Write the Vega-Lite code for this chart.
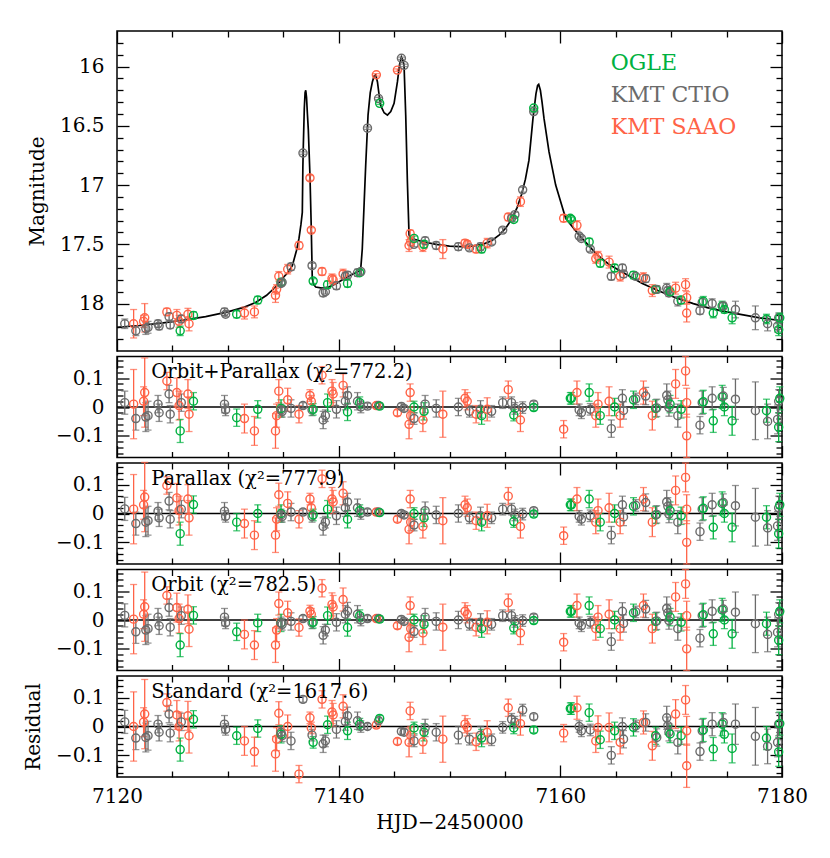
{
"$schema":"https://vega.github.io/schema/vega-lite/v6.json",
"background":"white",
"padding":{"left":22,"top":29,"right":5,"bottom":5},
"spacing":5.5,
"bounds":"flush",
"config":{
 "axis":{"domain":false,"grid":false,"tickColor":"black","tickWidth":1.3,"labelFont":"DejaVu Serif","labelFontSize":20,"labelColor":"black","titleFont":"DejaVu Serif","titleFontSize":20,"titleFontWeight":"normal","titleColor":"black","labelFlush":false,"labelOverlap":false},
 "view":{"stroke":"black","strokeWidth":1.5},
 "text":{"font":"DejaVu Serif"}
},
"datasets":{
"obs":[
{"t":7120.7,"obs":"KMT CTIO","mag":18.17,"err":0.04,"r_op":0.015,"r_p":0.016,"r_o":0.016,"r_std":0.016},
{"t":7121.5,"obs":"KMT SAAO","mag":18.17,"err":0.12,"r_op":0.01,"r_p":0.015,"r_o":0.003,"r_std":0.0},
{"t":7121.7,"obs":"KMT CTIO","mag":18.23,"err":0.04,"r_op":-0.04,"r_p":-0.035,"r_o":-0.041,"r_std":-0.04},
{"t":7122.4,"obs":"KMT SAAO","mag":18.15,"err":0.05,"r_op":0.02,"r_p":0.03,"r_o":0.02,"r_std":0.015},
{"t":7122.5,"obs":"KMT SAAO","mag":18.12,"err":0.12,"r_op":0.05,"r_p":0.057,"r_o":0.046,"r_std":0.043},
{"t":7122.6,"obs":"KMT CTIO","mag":18.21,"err":0.05,"r_op":-0.035,"r_p":-0.03,"r_o":-0.035,"r_std":-0.038},
{"t":7122.8,"obs":"KMT CTIO","mag":18.2,"err":0.05,"r_op":-0.03,"r_p":-0.025,"r_o":-0.03,"r_std":-0.032},
{"t":7123.7,"obs":"KMT CTIO","mag":18.17,"err":0.03,"r_op":0.01,"r_p":0.008,"r_o":0.01,"r_std":0.008},
{"t":7123.8,"obs":"KMT CTIO","mag":18.19,"err":0.03,"r_op":-0.02,"r_p":-0.015,"r_o":-0.02,"r_std":-0.02},
{"t":7124.5,"obs":"KMT SAAO","mag":18.07,"err":0.03,"r_op":0.09,"r_p":0.097,"r_o":0.085,"r_std":0.083},
{"t":7124.7,"obs":"KMT CTIO","mag":18.11,"err":0.03,"r_op":0.045,"r_p":0.043,"r_o":0.043,"r_std":0.043},
{"t":7124.8,"obs":"KMT CTIO","mag":18.18,"err":0.03,"r_op":-0.025,"r_p":-0.02,"r_o":-0.025,"r_std":-0.023},
{"t":7125.4,"obs":"KMT SAAO","mag":18.1,"err":0.05,"r_op":0.05,"r_p":0.054,"r_o":0.043,"r_std":0.04},
{"t":7125.6,"obs":"KMT SAAO","mag":18.15,"err":0.05,"r_op":0.005,"r_p":0.01,"r_o":0.005,"r_std":0.0},
{"t":7125.7,"obs":"OGLE","mag":18.23,"err":0.04,"r_op":-0.083,"r_p":-0.07,"r_o":-0.087,"r_std":-0.08},
{"t":7125.8,"obs":"KMT CTIO","mag":18.13,"err":0.03,"r_op":0.015,"r_p":0.015,"r_o":0.015,"r_std":0.016},
{"t":7126.4,"obs":"KMT SAAO","mag":18.09,"err":0.05,"r_op":0.045,"r_p":0.05,"r_o":0.037,"r_std":0.037},
{"t":7126.5,"obs":"KMT SAAO","mag":18.17,"err":0.06,"r_op":-0.025,"r_p":-0.015,"r_o":-0.032,"r_std":-0.032},
{"t":7126.9,"obs":"OGLE","mag":18.1,"err":0.03,"r_op":0.02,"r_p":0.031,"r_o":0.016,"r_std":0.025},
{"t":7129.7,"obs":"KMT CTIO","mag":18.07,"err":0.03,"r_op":0.01,"r_p":0.008,"r_o":0.01,"r_std":0.008},
{"t":7129.8,"obs":"KMT CTIO","mag":18.09,"err":0.02,"r_op":-0.01,"r_p":-0.01,"r_o":-0.01,"r_std":-0.01},
{"t":7130.8,"obs":"OGLE","mag":18.09,"err":0.03,"r_op":-0.037,"r_p":-0.03,"r_o":-0.041,"r_std":-0.032},
{"t":7131.5,"obs":"KMT SAAO","mag":18.08,"err":0.05,"r_op":-0.04,"r_p":-0.035,"r_o":-0.05,"r_std":-0.05},
{"t":7132.4,"obs":"KMT SAAO","mag":18.07,"err":0.05,"r_op":-0.083,"r_p":-0.075,"r_o":-0.087,"r_std":-0.087},
{"t":7132.7,"obs":"OGLE","mag":17.97,"err":0.03,"r_op":-0.008,"r_p":0.0,"r_o":-0.01,"r_std":-0.007},
{"t":7134.3,"obs":"KMT SAAO","mag":17.93,"err":0.06,"r_op":-0.083,"r_p":-0.075,"r_o":-0.087,"r_std":-0.095},
{"t":7134.4,"obs":"KMT SAAO","mag":17.88,"err":0.04,"r_op":-0.03,"r_p":-0.02,"r_o":-0.035,"r_std":-0.044},
{"t":7134.6,"obs":"KMT SAAO","mag":17.77,"err":0.04,"r_op":0.055,"r_p":0.065,"r_o":0.057,"r_std":0.046},
{"t":7134.8,"obs":"OGLE","mag":17.82,"err":0.03,"r_op":-0.005,"r_p":0.0,"r_o":-0.01,"r_std":-0.027},
{"t":7134.8,"obs":"KMT CTIO","mag":17.83,"err":0.02,"r_op":-0.01,"r_p":-0.005,"r_o":-0.01,"r_std":-0.02},
{"t":7134.9,"obs":"KMT CTIO","mag":17.82,"err":0.02,"r_op":-0.015,"r_p":-0.01,"r_o":-0.015,"r_std":-0.032},
{"t":7135.4,"obs":"KMT SAAO","mag":17.71,"err":0.04,"r_op":0.025,"r_p":0.035,"r_o":0.025,"r_std":0.0},
{"t":7135.7,"obs":"KMT CTIO","mag":17.69,"err":0.03,"r_op":-0.005,"r_p":0.005,"r_o":-0.005,"r_std":-0.05},
{"t":7136.42,"obs":"KMT SAAO","mag":17.51,"err":0.03,"r_op":-0.025,"r_p":-0.02,"r_o":-0.026,"r_std":-0.165},
{"t":7136.78,"obs":"KMT CTIO","mag":16.73,"err":0.01,"r_op":0.005,"r_p":0.005,"r_o":0.005,"r_std":0.094},
{"t":7137.41,"obs":"KMT SAAO","mag":16.94,"err":0.02,"r_op":0.04,"r_p":0.05,"r_o":0.031,"r_std":0.03},
{"t":7137.53,"obs":"KMT SAAO","mag":17.38,"err":0.02,"r_op":0.02,"r_p":0.02,"r_o":0.02,"r_std":-0.005},
{"t":7137.6,"obs":"KMT CTIO","mag":17.68,"err":0.02,"r_op":-0.01,"r_p":-0.01,"r_o":-0.01,"r_std":-0.03},
{"t":7137.7,"obs":"OGLE","mag":17.81,"err":0.02,"r_op":-0.008,"r_p":-0.005,"r_o":-0.008,"r_std":-0.055},
{"t":7138.5,"obs":"KMT SAAO","mag":17.73,"err":0.03,"r_op":0.11,"r_p":0.12,"r_o":0.11,"r_std":0.094},
{"t":7138.6,"obs":"KMT CTIO","mag":17.91,"err":0.03,"r_op":-0.045,"r_p":-0.045,"r_o":-0.053,"r_std":-0.06},
{"t":7138.8,"obs":"KMT CTIO","mag":17.9,"err":0.02,"r_op":-0.03,"r_p":-0.03,"r_o":-0.035,"r_std":-0.05},
{"t":7139.0,"obs":"OGLE","mag":17.84,"err":0.03,"r_op":0.015,"r_p":0.015,"r_o":0.015,"r_std":0.006},
{"t":7139.4,"obs":"KMT SAAO","mag":17.79,"err":0.04,"r_op":0.055,"r_p":0.05,"r_o":0.054,"r_std":0.05},
{"t":7139.5,"obs":"KMT SAAO","mag":17.8,"err":0.04,"r_op":0.045,"r_p":0.04,"r_o":0.045,"r_std":0.04},
{"t":7139.8,"obs":"KMT CTIO","mag":17.85,"err":0.03,"r_op":-0.008,"r_p":-0.008,"r_o":-0.008,"r_std":-0.01},
{"t":7140.4,"obs":"KMT SAAO","mag":17.75,"err":0.04,"r_op":0.075,"r_p":0.07,"r_o":0.071,"r_std":0.07},
{"t":7140.6,"obs":"KMT CTIO","mag":17.77,"err":0.03,"r_op":0.02,"r_p":0.02,"r_o":0.02,"r_std":0.017},
{"t":7140.8,"obs":"KMT CTIO","mag":17.76,"err":0.03,"r_op":0.04,"r_p":0.04,"r_o":0.031,"r_std":0.037},
{"t":7140.8,"obs":"OGLE","mag":17.83,"err":0.03,"r_op":-0.017,"r_p":-0.02,"r_o":-0.026,"r_std":-0.015},
{"t":7141.7,"obs":"KMT CTIO","mag":17.74,"err":0.03,"r_op":0.02,"r_p":0.02,"r_o":0.02,"r_std":0.02},
{"t":7141.9,"obs":"OGLE","mag":17.74,"err":0.02,"r_op":0.015,"r_p":0.01,"r_o":0.015,"r_std":0.008},
{"t":7142.0,"obs":"KMT CTIO","mag":17.73,"err":0.02,"r_op":0.0,"r_p":0.0,"r_o":0.0,"r_std":0.0},
{"t":7142.6,"obs":"KMT CTIO","mag":16.52,"err":0.01,"r_op":0.003,"r_p":0.005,"r_o":0.005,"r_std":0.0},
{"t":7143.4,"obs":"KMT SAAO","mag":16.07,"err":0.01,"r_op":0.005,"r_p":0.005,"r_o":0.005,"r_std":0.005},
{"t":7143.6,"obs":"KMT CTIO","mag":16.27,"err":0.01,"r_op":0.005,"r_p":0.005,"r_o":0.005,"r_std":0.02},
{"t":7143.7,"obs":"OGLE","mag":16.31,"err":0.01,"r_op":0.003,"r_p":0.003,"r_o":0.003,"r_std":0.028},
{"t":7145.3,"obs":"KMT SAAO","mag":16.03,"err":0.01,"r_op":-0.02,"r_p":-0.02,"r_o":-0.02,"r_std":-0.052},
{"t":7145.66,"obs":"KMT CTIO","mag":15.93,"err":0.01,"r_op":0.002,"r_p":0.0,"r_o":0.002,"r_std":-0.017},
{"t":7145.9,"obs":"KMT CTIO","mag":15.99,"err":0.01,"r_op":-0.005,"r_p":-0.005,"r_o":-0.005,"r_std":-0.02},
{"t":7146.35,"obs":"KMT SAAO","mag":17.51,"err":0.05,"r_op":-0.06,"r_p":-0.055,"r_o":-0.06,"r_std":-0.055},
{"t":7146.45,"obs":"KMT SAAO","mag":17.41,"err":0.03,"r_op":0.05,"r_p":0.05,"r_o":0.05,"r_std":0.054},
{"t":7146.5,"obs":"KMT SAAO","mag":17.48,"err":0.03,"r_op":-0.03,"r_p":-0.03,"r_o":-0.03,"r_std":-0.03},
{"t":7146.8,"obs":"KMT CTIO","mag":17.5,"err":0.02,"r_op":-0.04,"r_p":-0.04,"r_o":-0.04,"r_std":-0.05},
{"t":7146.8,"obs":"OGLE","mag":17.45,"err":0.02,"r_op":0.0,"r_p":0.0,"r_o":0.0,"r_std":-0.005},
{"t":7147.6,"obs":"KMT SAAO","mag":17.52,"err":0.04,"r_op":-0.045,"r_p":-0.045,"r_o":-0.045,"r_std":-0.053},
{"t":7147.7,"obs":"OGLE","mag":17.5,"err":0.03,"r_op":-0.015,"r_p":-0.015,"r_o":-0.015,"r_std":-0.02},
{"t":7147.8,"obs":"KMT CTIO","mag":17.47,"err":0.03,"r_op":0.01,"r_p":0.01,"r_o":0.01,"r_std":-0.005},
{"t":7148.8,"obs":"KMT CTIO","mag":17.51,"err":0.03,"r_op":-0.005,"r_p":-0.005,"r_o":-0.005,"r_std":-0.02},
{"t":7149.4,"obs":"KMT SAAO","mag":17.54,"err":0.08,"r_op":-0.025,"r_p":-0.025,"r_o":-0.025,"r_std":-0.044},
{"t":7150.8,"obs":"KMT CTIO","mag":17.52,"err":0.03,"r_op":0.0,"r_p":0.0,"r_o":0.0,"r_std":-0.03},
{"t":7151.4,"obs":"KMT SAAO","mag":17.49,"err":0.03,"r_op":0.03,"r_p":0.03,"r_o":0.03,"r_std":0.008},
{"t":7151.6,"obs":"KMT SAAO","mag":17.5,"err":0.03,"r_op":0.02,"r_p":0.02,"r_o":0.02,"r_std":-0.003},
{"t":7151.8,"obs":"KMT CTIO","mag":17.53,"err":0.02,"r_op":-0.015,"r_p":-0.015,"r_o":-0.015,"r_std":-0.044},
{"t":7152.4,"obs":"KMT SAAO","mag":17.54,"err":0.03,"r_op":-0.025,"r_p":-0.025,"r_o":-0.025,"r_std":-0.053},
{"t":7152.8,"obs":"KMT CTIO","mag":17.52,"err":0.03,"r_op":-0.008,"r_p":-0.008,"r_o":-0.008,"r_std":-0.03},
{"t":7152.9,"obs":"OGLE","mag":17.54,"err":0.03,"r_op":-0.03,"r_p":-0.03,"r_o":-0.03,"r_std":-0.04},
{"t":7153.4,"obs":"KMT SAAO","mag":17.49,"err":0.04,"r_op":-0.008,"r_p":-0.008,"r_o":-0.008,"r_std":-0.02},
{"t":7153.8,"obs":"KMT CTIO","mag":17.48,"err":0.02,"r_op":-0.015,"r_p":-0.015,"r_o":-0.015,"r_std":-0.046},
{"t":7154.8,"obs":"KMT CTIO","mag":17.38,"err":0.02,"r_op":0.015,"r_p":0.015,"r_o":0.015,"r_std":-0.003},
{"t":7155.3,"obs":"KMT SAAO","mag":17.27,"err":0.03,"r_op":0.06,"r_p":0.06,"r_o":0.06,"r_std":0.065},
{"t":7155.6,"obs":"KMT CTIO","mag":17.28,"err":0.02,"r_op":0.015,"r_p":0.015,"r_o":0.015,"r_std":0.025},
{"t":7155.9,"obs":"KMT CTIO","mag":17.25,"err":0.02,"r_op":-0.005,"r_p":-0.005,"r_o":-0.005,"r_std":0.015},
{"t":7155.8,"obs":"OGLE","mag":17.29,"err":0.02,"r_op":-0.028,"r_p":-0.028,"r_o":-0.028,"r_std":-0.005},
{"t":7156.4,"obs":"KMT SAAO","mag":17.14,"err":0.04,"r_op":-0.045,"r_p":-0.045,"r_o":-0.045,"r_std":0.01},
{"t":7156.6,"obs":"KMT CTIO","mag":17.04,"err":0.02,"r_op":-0.002,"r_p":-0.002,"r_o":-0.002,"r_std":0.057},
{"t":7157.6,"obs":"KMT CTIO","mag":16.38,"err":0.01,"r_op":0.01,"r_p":0.01,"r_o":0.01,"r_std":0.034},
{"t":7157.6,"obs":"OGLE","mag":16.35,"err":0.01,"r_op":-0.002,"r_p":-0.002,"r_o":-0.002,"r_std":-0.012},
{"t":7160.3,"obs":"KMT SAAO","mag":17.28,"err":0.03,"r_op":-0.077,"r_p":-0.077,"r_o":-0.077,"r_std":-0.023},
{"t":7160.9,"obs":"OGLE","mag":17.28,"err":0.02,"r_op":0.03,"r_p":0.03,"r_o":0.03,"r_std":0.062},
{"t":7161.0,"obs":"OGLE","mag":17.29,"err":0.02,"r_op":0.03,"r_p":0.03,"r_o":0.03,"r_std":0.062},
{"t":7161.5,"obs":"KMT SAAO","mag":17.34,"err":0.04,"r_op":0.05,"r_p":0.05,"r_o":0.05,"r_std":0.065},
{"t":7161.7,"obs":"KMT CTIO","mag":17.43,"err":0.02,"r_op":-0.01,"r_p":-0.01,"r_o":-0.01,"r_std":0.0},
{"t":7161.9,"obs":"KMT CTIO","mag":17.45,"err":0.02,"r_op":-0.02,"r_p":-0.02,"r_o":-0.02,"r_std":-0.015},
{"t":7162.6,"obs":"OGLE","mag":17.48,"err":0.03,"r_op":0.05,"r_p":0.05,"r_o":0.05,"r_std":0.048},
{"t":7162.7,"obs":"KMT CTIO","mag":17.54,"err":0.02,"r_op":-0.008,"r_p":-0.008,"r_o":-0.008,"r_std":-0.012},
{"t":7163.2,"obs":"KMT SAAO","mag":17.62,"err":0.04,"r_op":-0.03,"r_p":-0.03,"r_o":-0.03,"r_std":-0.05},
{"t":7163.4,"obs":"KMT SAAO","mag":17.6,"err":0.04,"r_op":0.01,"r_p":0.01,"r_o":0.01,"r_std":-0.003},
{"t":7163.6,"obs":"OGLE","mag":17.66,"err":0.03,"r_op":-0.03,"r_p":-0.03,"r_o":-0.03,"r_std":-0.046},
{"t":7164.4,"obs":"KMT SAAO","mag":17.65,"err":0.05,"r_op":0.02,"r_p":0.02,"r_o":0.02,"r_std":-0.003},
{"t":7164.6,"obs":"KMT CTIO","mag":17.77,"err":0.03,"r_op":-0.075,"r_p":-0.075,"r_o":-0.075,"r_std":-0.1},
{"t":7164.9,"obs":"OGLE","mag":17.7,"err":0.03,"r_op":0.0,"r_p":0.0,"r_o":0.0,"r_std":-0.015},
{"t":7165.4,"obs":"KMT SAAO","mag":17.77,"err":0.04,"r_op":-0.03,"r_p":-0.03,"r_o":-0.03,"r_std":-0.055},
{"t":7165.6,"obs":"KMT CTIO","mag":17.7,"err":0.03,"r_op":0.03,"r_p":0.03,"r_o":0.03,"r_std":0.0},
{"t":7165.7,"obs":"KMT CTIO","mag":17.75,"err":0.03,"r_op":-0.012,"r_p":-0.012,"r_o":-0.012,"r_std":-0.044},
{"t":7166.6,"obs":"OGLE","mag":17.76,"err":0.03,"r_op":0.025,"r_p":0.025,"r_o":0.025,"r_std":-0.003},
{"t":7166.8,"obs":"KMT CTIO","mag":17.77,"err":0.02,"r_op":0.028,"r_p":0.028,"r_o":0.028,"r_std":0.002},
{"t":7167.5,"obs":"KMT SAAO","mag":17.78,"err":0.04,"r_op":0.05,"r_p":0.05,"r_o":0.05,"r_std":0.014},
{"t":7167.7,"obs":"KMT CTIO","mag":17.79,"err":0.03,"r_op":0.038,"r_p":0.038,"r_o":0.038,"r_std":0.014},
{"t":7168.3,"obs":"KMT SAAO","mag":17.89,"err":0.05,"r_op":-0.03,"r_p":-0.03,"r_o":-0.03,"r_std":-0.067},
{"t":7168.6,"obs":"OGLE","mag":17.88,"err":0.03,"r_op":-0.005,"r_p":-0.005,"r_o":-0.005,"r_std":-0.032},
{"t":7168.7,"obs":"KMT CTIO","mag":17.88,"err":0.03,"r_op":-0.003,"r_p":-0.003,"r_o":-0.003,"r_std":-0.038},
{"t":7169.6,"obs":"KMT CTIO","mag":17.87,"err":0.04,"r_op":0.04,"r_p":0.04,"r_o":0.04,"r_std":0.03},
{"t":7169.7,"obs":"KMT CTIO","mag":17.89,"err":0.03,"r_op":0.025,"r_p":0.025,"r_o":0.025,"r_std":0.003},
{"t":7169.8,"obs":"KMT CTIO","mag":17.91,"err":0.03,"r_op":-0.002,"r_p":-0.002,"r_o":-0.002,"r_std":-0.02},
{"t":7169.9,"obs":"OGLE","mag":17.9,"err":0.03,"r_op":0.01,"r_p":0.01,"r_o":0.01,"r_std":-0.026},
{"t":7170.4,"obs":"KMT SAAO","mag":17.87,"err":0.05,"r_op":0.08,"r_p":0.08,"r_o":0.08,"r_std":0.043},
{"t":7170.6,"obs":"KMT CTIO","mag":17.98,"err":0.04,"r_op":-0.03,"r_p":-0.03,"r_o":-0.03,"r_std":-0.055},
{"t":7170.9,"obs":"OGLE","mag":17.97,"err":0.03,"r_op":-0.008,"r_p":-0.008,"r_o":-0.008,"r_std":-0.032},
{"t":7171.3,"obs":"KMT SAAO","mag":17.84,"err":0.05,"r_op":0.125,"r_p":0.125,"r_o":0.125,"r_std":0.092},
{"t":7171.4,"obs":"KMT SAAO","mag":17.95,"err":0.05,"r_op":0.015,"r_p":0.015,"r_o":0.015,"r_std":-0.015},
{"t":7171.4,"obs":"KMT SAAO","mag":18.08,"err":0.075,"r_op":-0.1,"r_p":-0.1,"r_o":-0.1,"r_std":-0.136},
{"t":7172.6,"obs":"KMT CTIO","mag":18.06,"err":0.03,"r_op":-0.063,"r_p":-0.063,"r_o":-0.063,"r_std":-0.087},
{"t":7172.8,"obs":"KMT CTIO","mag":17.99,"err":0.04,"r_op":0.015,"r_p":0.015,"r_o":0.015,"r_std":-0.015},
{"t":7172.9,"obs":"OGLE","mag":17.98,"err":0.04,"r_op":0.018,"r_p":0.018,"r_o":0.018,"r_std":-0.012},
{"t":7173.7,"obs":"KMT CTIO","mag":18.0,"err":0.04,"r_op":0.03,"r_p":0.03,"r_o":0.03,"r_std":0.008},
{"t":7173.8,"obs":"OGLE","mag":18.08,"err":0.04,"r_op":-0.048,"r_p":-0.048,"r_o":-0.048,"r_std":-0.078},
{"t":7174.6,"obs":"OGLE","mag":18.02,"err":0.04,"r_op":0.035,"r_p":0.035,"r_o":0.035,"r_std":0.008},
{"t":7174.7,"obs":"KMT CTIO","mag":18.02,"err":0.03,"r_op":0.038,"r_p":0.038,"r_o":0.038,"r_std":0.014},
{"t":7174.8,"obs":"OGLE","mag":18.05,"err":0.03,"r_op":0.0,"r_p":0.0,"r_o":0.0,"r_std":-0.027},
{"t":7175.5,"obs":"OGLE","mag":18.12,"err":0.05,"r_op":-0.048,"r_p":-0.048,"r_o":-0.048,"r_std":-0.076},
{"t":7175.8,"obs":"KMT CTIO","mag":18.05,"err":0.07,"r_op":0.027,"r_p":0.027,"r_o":0.027,"r_std":0.008},
{"t":7177.6,"obs":"KMT CTIO","mag":18.12,"err":0.1,"r_op":-0.013,"r_p":-0.013,"r_o":-0.013,"r_std":-0.034},
{"t":7178.6,"obs":"OGLE","mag":18.13,"err":0.04,"r_op":-0.013,"r_p":-0.013,"r_o":-0.013,"r_std":-0.04},
{"t":7178.7,"obs":"KMT CTIO","mag":18.17,"err":0.06,"r_op":-0.05,"r_p":-0.05,"r_o":-0.05,"r_std":-0.069},
{"t":7179.6,"obs":"KMT CTIO","mag":18.19,"err":0.05,"r_op":-0.043,"r_p":-0.043,"r_o":-0.043,"r_std":-0.055},
{"t":7179.7,"obs":"OGLE","mag":18.22,"err":0.05,"r_op":-0.07,"r_p":-0.07,"r_o":-0.07,"r_std":-0.088},
{"t":7179.7,"obs":"KMT CTIO","mag":18.12,"err":0.04,"r_op":0.02,"r_p":0.02,"r_o":0.02,"r_std":0.008},
{"t":7179.8,"obs":"OGLE","mag":18.12,"err":0.04,"r_op":0.03,"r_p":0.03,"r_o":0.03,"r_std":0.01}
],
"model":[
{"t":7120.0,"mag":18.2},{"t":7122.0,"mag":18.185},{"t":7124.0,"mag":18.165},{"t":7126.0,"mag":18.14},{"t":7128.0,"mag":18.11},{"t":7130.0,"mag":18.07},{"t":7131.5,"mag":18.03},{"t":7132.5,"mag":17.99},{"t":7133.5,"mag":17.93},{"t":7134.3,"mag":17.86},{"t":7134.9,"mag":17.79},{"t":7135.4,"mag":17.74},{"t":7135.82,"mag":17.68},{"t":7136.2,"mag":17.55},{"t":7136.42,"mag":17.45},{"t":7136.6,"mag":17.33},{"t":7136.72,"mag":17.23},{"t":7136.77,"mag":16.85},{"t":7136.81,"mag":16.67},{"t":7136.9,"mag":16.35},{"t":7136.97,"mag":16.22},{"t":7137.03,"mag":16.2},{"t":7137.1,"mag":16.26},{"t":7137.18,"mag":16.4},{"t":7137.26,"mag":16.53},{"t":7137.41,"mag":16.92},{"t":7137.53,"mag":17.37},{"t":7137.62,"mag":17.79},{"t":7137.75,"mag":17.84},{"t":7137.93,"mag":17.86},{"t":7138.5,"mag":17.87},{"t":7139.1,"mag":17.86},{"t":7139.8,"mag":17.83},{"t":7140.48,"mag":17.79},{"t":7141.3,"mag":17.75},{"t":7141.98,"mag":17.72},{"t":7142.13,"mag":17.54},{"t":7142.3,"mag":17.15},{"t":7142.44,"mag":16.83},{"t":7142.65,"mag":16.41},{"t":7142.85,"mag":16.22},{"t":7143.04,"mag":16.13},{"t":7143.2,"mag":16.08},{"t":7143.34,"mag":16.07},{"t":7143.5,"mag":16.13},{"t":7143.65,"mag":16.24},{"t":7143.8,"mag":16.33},{"t":7144.1,"mag":16.39},{"t":7144.4,"mag":16.41},{"t":7144.7,"mag":16.38},{"t":7145.0,"mag":16.31},{"t":7145.3,"mag":16.13},{"t":7145.5,"mag":15.98},{"t":7145.66,"mag":15.92},{"t":7145.8,"mag":15.95},{"t":7145.9,"mag":15.99},{"t":7146.05,"mag":16.41},{"t":7146.2,"mag":16.97},{"t":7146.35,"mag":17.42},{"t":7146.5,"mag":17.45},{"t":7147.7,"mag":17.48},{"t":7148.8,"mag":17.5},{"t":7150.0,"mag":17.515},{"t":7151.0,"mag":17.52},{"t":7152.0,"mag":17.515},{"t":7153.0,"mag":17.5},{"t":7153.8,"mag":17.47},{"t":7154.5,"mag":17.42},{"t":7155.1,"mag":17.36},{"t":7155.6,"mag":17.29},{"t":7156.1,"mag":17.19},{"t":7156.5,"mag":17.08},{"t":7156.85,"mag":16.95},{"t":7157.17,"mag":16.79},{"t":7157.53,"mag":16.44},{"t":7157.8,"mag":16.23},{"t":7157.95,"mag":16.16},{"t":7158.05,"mag":16.15},{"t":7158.2,"mag":16.2},{"t":7158.35,"mag":16.3},{"t":7158.53,"mag":16.44},{"t":7158.98,"mag":16.72},{"t":7159.58,"mag":17.0},{"t":7160.48,"mag":17.28},{"t":7161.68,"mag":17.42},{"t":7163.34,"mag":17.59},{"t":7164.4,"mag":17.67},{"t":7165.5,"mag":17.73},{"t":7167.4,"mag":17.83},{"t":7168.8,"mag":17.89},{"t":7170.4,"mag":17.95},{"t":7172.0,"mag":18.0},{"t":7173.5,"mag":18.04},{"t":7175.0,"mag":18.07},{"t":7176.5,"mag":18.095},{"t":7178.0,"mag":18.12},{"t":7180.0,"mag":18.145}
]
},
"vconcat":[
{
 "width":665,"height":320,
 "resolve":{"axis":{"x":"independent","y":"independent"}},
 "layer":[
  {"data":{"name":"model"},"mark":{"type":"line","color":"black","strokeWidth":1.7},
   "encoding":{
    "x":{"field":"t","type":"quantitative","scale":{"domain":[7120,7180],"nice":false,"zero":false},"axis":{"orient":"bottom","values":[7120,7140,7160,7180],"tickSize":-12,"labels":false,"title":null}},
    "y":{"field":"mag","type":"quantitative","scale":{"domain":[15.7,18.4],"reverse":true,"nice":false,"zero":false},"axis":{"orient":"left","values":[16,16.5,17,17.5,18],"tickSize":-12,"labelPadding":25,"format":"~g","title":"Magnitude","titlePadding":12}}}},
  {"data":{"name":"obs"},"mark":{"type":"errorbar","ticks":{"size":7},"thickness":1.3},
   "encoding":{
    "x":{"field":"t","type":"quantitative","scale":{"domain":[7120,7180],"nice":false,"zero":false},"axis":{"orient":"bottom","values":[7125,7130,7135,7145,7150,7155,7165,7170,7175],"tickSize":-6,"labels":false,"title":null}},
    "y":{"field":"mag","type":"quantitative","scale":{"domain":[15.7,18.4],"reverse":true,"nice":false,"zero":false},"axis":{"orient":"left","values":[15.8,15.9,16.1,16.2,16.3,16.4,16.6,16.7,16.8,16.9,17.1,17.2,17.3,17.4,17.6,17.7,17.8,17.9,18.1,18.2,18.3],"tickSize":-6,"labels":false,"title":null}},
    "yError":{"field":"err"},
    "color":{"field":"obs","type":"nominal","scale":{"domain":["OGLE","KMT CTIO","KMT SAAO"],"range":["#00b140","#6b6b6b","#ff6347"]},"legend":null}}},
  {"data":{"name":"obs"},"mark":{"type":"point","filled":false,"size":65,"strokeWidth":1.4,"opacity":1},
   "encoding":{
    "x":{"field":"t","type":"quantitative","scale":{"domain":[7120,7180],"nice":false,"zero":false},"axis":{"orient":"top","values":[7120,7140,7160,7180],"tickSize":-12,"labels":false,"title":null}},
    "y":{"field":"mag","type":"quantitative","scale":{"domain":[15.7,18.4],"reverse":true,"nice":false,"zero":false},"axis":{"orient":"right","values":[16,16.5,17,17.5,18],"tickSize":-12,"labels":false,"title":null}},
    "color":{"field":"obs","type":"nominal","scale":{"domain":["OGLE","KMT CTIO","KMT SAAO"],"range":["#00b140","#6b6b6b","#ff6347"]},"legend":null}}},
  {"data":{"values":[{"t":7164.55,"mag":16.028,"label":"OGLE"},{"t":7164.55,"mag":16.3,"label":"KMT CTIO"},{"t":7164.55,"mag":16.573,"label":"KMT SAAO"}]},
   "mark":{"type":"text","align":"left","baseline":"alphabetic","fontSize":22,"font":"DejaVu Serif"},
   "encoding":{
    "x":{"field":"t","type":"quantitative","scale":{"domain":[7120,7180],"nice":false,"zero":false},"axis":{"orient":"top","values":[7125,7130,7135,7145,7150,7155,7165,7170,7175],"tickSize":-6,"labels":false,"title":null}},
    "y":{"field":"mag","type":"quantitative","scale":{"domain":[15.7,18.4],"reverse":true,"nice":false,"zero":false},"axis":{"orient":"right","values":[15.8,15.9,16.1,16.2,16.3,16.4,16.6,16.7,16.8,16.9,17.1,17.2,17.3,17.4,17.6,17.7,17.8,17.9,18.1,18.2,18.3],"tickSize":-6,"labels":false,"title":null}},
    "text":{"field":"label"},
    "color":{"field":"label","type":"nominal","scale":{"domain":["OGLE","KMT CTIO","KMT SAAO"],"range":["#00b140","#6b6b6b","#ff6347"]},"legend":null}}}
 ]
},
{
 "width":665,"height":101,
 "resolve":{"axis":{"x":"independent","y":"independent"}},
 "layer":[
  {"data":{"values":[{"a":7120,"b":7180,"z":0}]},"mark":{"type":"rule","color":"black","strokeWidth":1.5},
   "encoding":{
    "x":{"field":"a","type":"quantitative","scale":{"domain":[7120,7180],"nice":false,"zero":false},"axis":{"orient":"top","values":[7125,7130,7135,7145,7150,7155,7165,7170,7175],"tickSize":-6,"labels":false,"title":null}},
    "x2":{"field":"b"},
    "y":{"field":"z","type":"quantitative","scale":{"domain":[-0.175,0.175],"nice":false,"zero":false},"axis":{"orient":"left","values":[-0.1,0,0.1],"tickSize":-12,"labelPadding":25,"format":"~g","title":null}}}},
  {"data":{"name":"obs"},"mark":{"type":"errorbar","ticks":{"size":7},"thickness":1.3},
   "encoding":{
    "x":{"field":"t","type":"quantitative","scale":{"domain":[7120,7180],"nice":false,"zero":false},"axis":{"orient":"bottom","values":[7120,7140,7160,7180],"tickSize":-12,"labels":false,"title":null}},
    "y":{"field":"r_op","type":"quantitative","scale":{"domain":[-0.175,0.175],"nice":false,"zero":false},"axis":{"orient":"left","values":[-0.16,-0.14,-0.12,-0.08,-0.06,-0.04,-0.02,0.02,0.04,0.06,0.08,0.12,0.14,0.16],"tickSize":-6,"labels":false,"title":null}},
    "yError":{"field":"err"},
    "color":{"field":"obs","type":"nominal","scale":{"domain":["OGLE","KMT CTIO","KMT SAAO"],"range":["#00b140","#6b6b6b","#ff6347"]},"legend":null}}},
  {"data":{"name":"obs"},"mark":{"type":"point","filled":false,"size":65,"strokeWidth":1.4,"opacity":1},
   "encoding":{
    "x":{"field":"t","type":"quantitative","scale":{"domain":[7120,7180],"nice":false,"zero":false},"axis":{"orient":"top","values":[7120,7140,7160,7180],"tickSize":-12,"labels":false,"title":null}},
    "y":{"field":"r_op","type":"quantitative","scale":{"domain":[-0.175,0.175],"nice":false,"zero":false},"axis":{"orient":"right","values":[-0.1,0,0.1],"tickSize":-12,"labels":false,"title":null}},
    "color":{"field":"obs","type":"nominal","scale":{"domain":["OGLE","KMT CTIO","KMT SAAO"],"range":["#00b140","#6b6b6b","#ff6347"]},"legend":null}}},
  {"data":{"values":[{"t":7123.1,"r":0.1,"label":"Orbit+Parallax (χ²=772.2)"}]},
   "mark":{"type":"text","align":"left","baseline":"alphabetic","fontSize":19.5,"font":"DejaVu Serif","color":"black"},
   "encoding":{
    "x":{"field":"t","type":"quantitative","scale":{"domain":[7120,7180],"nice":false,"zero":false},"axis":{"orient":"bottom","values":[7125,7130,7135,7145,7150,7155,7165,7170,7175],"tickSize":-6,"labels":false,"title":null}},
    "y":{"field":"r","type":"quantitative","scale":{"domain":[-0.175,0.175],"nice":false,"zero":false},"axis":{"orient":"right","values":[-0.16,-0.14,-0.12,-0.08,-0.06,-0.04,-0.02,0.02,0.04,0.06,0.08,0.12,0.14,0.16],"tickSize":-6,"labels":false,"title":null}},
    "text":{"field":"label"}}}
 ]
},
{
 "width":665,"height":101,
 "resolve":{"axis":{"x":"independent","y":"independent"}},
 "layer":[
  {"data":{"values":[{"a":7120,"b":7180,"z":0}]},"mark":{"type":"rule","color":"black","strokeWidth":1.5},
   "encoding":{
    "x":{"field":"a","type":"quantitative","scale":{"domain":[7120,7180],"nice":false,"zero":false},"axis":{"orient":"top","values":[7125,7130,7135,7145,7150,7155,7165,7170,7175],"tickSize":-6,"labels":false,"title":null}},
    "x2":{"field":"b"},
    "y":{"field":"z","type":"quantitative","scale":{"domain":[-0.175,0.175],"nice":false,"zero":false},"axis":{"orient":"left","values":[-0.1,0,0.1],"tickSize":-12,"labelPadding":25,"format":"~g","title":null}}}},
  {"data":{"name":"obs"},"mark":{"type":"errorbar","ticks":{"size":7},"thickness":1.3},
   "encoding":{
    "x":{"field":"t","type":"quantitative","scale":{"domain":[7120,7180],"nice":false,"zero":false},"axis":{"orient":"bottom","values":[7120,7140,7160,7180],"tickSize":-12,"labels":false,"title":null}},
    "y":{"field":"r_p","type":"quantitative","scale":{"domain":[-0.175,0.175],"nice":false,"zero":false},"axis":{"orient":"left","values":[-0.16,-0.14,-0.12,-0.08,-0.06,-0.04,-0.02,0.02,0.04,0.06,0.08,0.12,0.14,0.16],"tickSize":-6,"labels":false,"title":null}},
    "yError":{"field":"err"},
    "color":{"field":"obs","type":"nominal","scale":{"domain":["OGLE","KMT CTIO","KMT SAAO"],"range":["#00b140","#6b6b6b","#ff6347"]},"legend":null}}},
  {"data":{"name":"obs"},"mark":{"type":"point","filled":false,"size":65,"strokeWidth":1.4,"opacity":1},
   "encoding":{
    "x":{"field":"t","type":"quantitative","scale":{"domain":[7120,7180],"nice":false,"zero":false},"axis":{"orient":"top","values":[7120,7140,7160,7180],"tickSize":-12,"labels":false,"title":null}},
    "y":{"field":"r_p","type":"quantitative","scale":{"domain":[-0.175,0.175],"nice":false,"zero":false},"axis":{"orient":"right","values":[-0.1,0,0.1],"tickSize":-12,"labels":false,"title":null}},
    "color":{"field":"obs","type":"nominal","scale":{"domain":["OGLE","KMT CTIO","KMT SAAO"],"range":["#00b140","#6b6b6b","#ff6347"]},"legend":null}}},
  {"data":{"values":[{"t":7123.1,"r":0.1,"label":"Parallax (χ²=777.9)"}]},
   "mark":{"type":"text","align":"left","baseline":"alphabetic","fontSize":19.5,"font":"DejaVu Serif","color":"black"},
   "encoding":{
    "x":{"field":"t","type":"quantitative","scale":{"domain":[7120,7180],"nice":false,"zero":false},"axis":{"orient":"bottom","values":[7125,7130,7135,7145,7150,7155,7165,7170,7175],"tickSize":-6,"labels":false,"title":null}},
    "y":{"field":"r","type":"quantitative","scale":{"domain":[-0.175,0.175],"nice":false,"zero":false},"axis":{"orient":"right","values":[-0.16,-0.14,-0.12,-0.08,-0.06,-0.04,-0.02,0.02,0.04,0.06,0.08,0.12,0.14,0.16],"tickSize":-6,"labels":false,"title":null}},
    "text":{"field":"label"}}}
 ]
},
{
 "width":665,"height":101,
 "resolve":{"axis":{"x":"independent","y":"independent"}},
 "layer":[
  {"data":{"values":[{"a":7120,"b":7180,"z":0}]},"mark":{"type":"rule","color":"black","strokeWidth":1.5},
   "encoding":{
    "x":{"field":"a","type":"quantitative","scale":{"domain":[7120,7180],"nice":false,"zero":false},"axis":{"orient":"top","values":[7125,7130,7135,7145,7150,7155,7165,7170,7175],"tickSize":-6,"labels":false,"title":null}},
    "x2":{"field":"b"},
    "y":{"field":"z","type":"quantitative","scale":{"domain":[-0.175,0.175],"nice":false,"zero":false},"axis":{"orient":"left","values":[-0.1,0,0.1],"tickSize":-12,"labelPadding":25,"format":"~g","title":null}}}},
  {"data":{"name":"obs"},"mark":{"type":"errorbar","ticks":{"size":7},"thickness":1.3},
   "encoding":{
    "x":{"field":"t","type":"quantitative","scale":{"domain":[7120,7180],"nice":false,"zero":false},"axis":{"orient":"bottom","values":[7120,7140,7160,7180],"tickSize":-12,"labels":false,"title":null}},
    "y":{"field":"r_o","type":"quantitative","scale":{"domain":[-0.175,0.175],"nice":false,"zero":false},"axis":{"orient":"left","values":[-0.16,-0.14,-0.12,-0.08,-0.06,-0.04,-0.02,0.02,0.04,0.06,0.08,0.12,0.14,0.16],"tickSize":-6,"labels":false,"title":null}},
    "yError":{"field":"err"},
    "color":{"field":"obs","type":"nominal","scale":{"domain":["OGLE","KMT CTIO","KMT SAAO"],"range":["#00b140","#6b6b6b","#ff6347"]},"legend":null}}},
  {"data":{"name":"obs"},"mark":{"type":"point","filled":false,"size":65,"strokeWidth":1.4,"opacity":1},
   "encoding":{
    "x":{"field":"t","type":"quantitative","scale":{"domain":[7120,7180],"nice":false,"zero":false},"axis":{"orient":"top","values":[7120,7140,7160,7180],"tickSize":-12,"labels":false,"title":null}},
    "y":{"field":"r_o","type":"quantitative","scale":{"domain":[-0.175,0.175],"nice":false,"zero":false},"axis":{"orient":"right","values":[-0.1,0,0.1],"tickSize":-12,"labels":false,"title":null}},
    "color":{"field":"obs","type":"nominal","scale":{"domain":["OGLE","KMT CTIO","KMT SAAO"],"range":["#00b140","#6b6b6b","#ff6347"]},"legend":null}}},
  {"data":{"values":[{"t":7123.1,"r":0.1,"label":"Orbit (χ²=782.5)"}]},
   "mark":{"type":"text","align":"left","baseline":"alphabetic","fontSize":19.5,"font":"DejaVu Serif","color":"black"},
   "encoding":{
    "x":{"field":"t","type":"quantitative","scale":{"domain":[7120,7180],"nice":false,"zero":false},"axis":{"orient":"bottom","values":[7125,7130,7135,7145,7150,7155,7165,7170,7175],"tickSize":-6,"labels":false,"title":null}},
    "y":{"field":"r","type":"quantitative","scale":{"domain":[-0.175,0.175],"nice":false,"zero":false},"axis":{"orient":"right","values":[-0.16,-0.14,-0.12,-0.08,-0.06,-0.04,-0.02,0.02,0.04,0.06,0.08,0.12,0.14,0.16],"tickSize":-6,"labels":false,"title":null}},
    "text":{"field":"label"}}}
 ]
},
{
 "width":665,"height":101,
 "resolve":{"axis":{"x":"independent","y":"independent"}},
 "layer":[
  {"data":{"values":[{"a":7120,"b":7180,"z":0}]},"mark":{"type":"rule","color":"black","strokeWidth":1.5},
   "encoding":{
    "x":{"field":"a","type":"quantitative","scale":{"domain":[7120,7180],"nice":false,"zero":false},"axis":{"orient":"top","values":[7125,7130,7135,7145,7150,7155,7165,7170,7175],"tickSize":-6,"labels":false,"title":null}},
    "x2":{"field":"b"},
    "y":{"field":"z","type":"quantitative","scale":{"domain":[-0.175,0.175],"nice":false,"zero":false},"axis":{"orient":"left","values":[-0.1,0,0.1],"tickSize":-12,"labelPadding":25,"format":"~g","title":"Residual","titlePadding":12}}}},
  {"data":{"name":"obs"},"mark":{"type":"errorbar","ticks":{"size":7},"thickness":1.3},
   "encoding":{
    "x":{"field":"t","type":"quantitative","scale":{"domain":[7120,7180],"nice":false,"zero":false},"axis":{"orient":"bottom","values":[7120,7140,7160,7180],"tickSize":-12,"labels":true,"labelPadding":21,"format":"d","title":"HJD−2450000","titlePadding":6}},
    "y":{"field":"r_std","type":"quantitative","scale":{"domain":[-0.175,0.175],"nice":false,"zero":false},"axis":{"orient":"left","values":[-0.16,-0.14,-0.12,-0.08,-0.06,-0.04,-0.02,0.02,0.04,0.06,0.08,0.12,0.14,0.16],"tickSize":-6,"labels":false,"title":null}},
    "yError":{"field":"err"},
    "color":{"field":"obs","type":"nominal","scale":{"domain":["OGLE","KMT CTIO","KMT SAAO"],"range":["#00b140","#6b6b6b","#ff6347"]},"legend":null}}},
  {"data":{"name":"obs"},"mark":{"type":"point","filled":false,"size":65,"strokeWidth":1.4,"opacity":1},
   "encoding":{
    "x":{"field":"t","type":"quantitative","scale":{"domain":[7120,7180],"nice":false,"zero":false},"axis":{"orient":"top","values":[7120,7140,7160,7180],"tickSize":-12,"labels":false,"title":null}},
    "y":{"field":"r_std","type":"quantitative","scale":{"domain":[-0.175,0.175],"nice":false,"zero":false},"axis":{"orient":"right","values":[-0.1,0,0.1],"tickSize":-12,"labels":false,"title":null}},
    "color":{"field":"obs","type":"nominal","scale":{"domain":["OGLE","KMT CTIO","KMT SAAO"],"range":["#00b140","#6b6b6b","#ff6347"]},"legend":null}}},
  {"data":{"values":[{"t":7123.1,"r":0.1,"label":"Standard (χ²=1617.6)"}]},
   "mark":{"type":"text","align":"left","baseline":"alphabetic","fontSize":19.5,"font":"DejaVu Serif","color":"black"},
   "encoding":{
    "x":{"field":"t","type":"quantitative","scale":{"domain":[7120,7180],"nice":false,"zero":false},"axis":{"orient":"bottom","values":[7125,7130,7135,7145,7150,7155,7165,7170,7175],"tickSize":-6,"labels":false,"title":null}},
    "y":{"field":"r","type":"quantitative","scale":{"domain":[-0.175,0.175],"nice":false,"zero":false},"axis":{"orient":"right","values":[-0.16,-0.14,-0.12,-0.08,-0.06,-0.04,-0.02,0.02,0.04,0.06,0.08,0.12,0.14,0.16],"tickSize":-6,"labels":false,"title":null}},
    "text":{"field":"label"}}}
 ]
}
]
}
